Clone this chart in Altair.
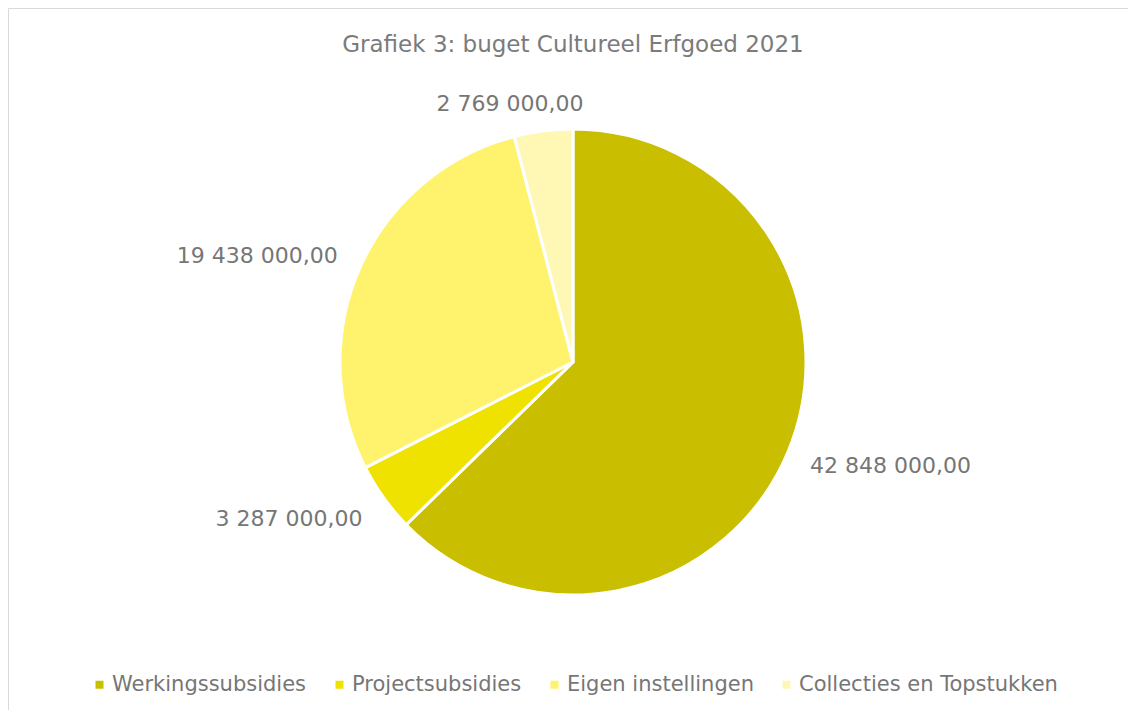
import altair as alt
import pandas as pd

categories = ["Werkingssubsidies", "Projectsubsidies", "Eigen instellingen", "Collecties en Topstukken"]
values = [42848000, 3287000, 19438000, 2769000]
colors = ["#C9BF00", "#EFE200", "#FFF36E", "#FFF8B4"]
title_text = "Grafiek 3: buget Cultureel Erfgoed 2021"

def fmt(v):
    return f"{v:,.2f}".replace(",", " ").replace(".", ",")

df = pd.DataFrame({
    "category": categories,
    "value": values,
    "idx": list(range(len(categories))),
    "label": [fmt(v) for v in values],
})
total = sum(values)

FONT = "DejaVu Sans"
GREY = "#767676"
W, H = 1120, 702
CX, CY = 565, 354

base = alt.Chart(df).transform_window(
    cum="sum(value)", sort=[{"field": "idx"}]
).transform_calculate(mid="datum.cum - datum.value / 2")

theta_scale = alt.Scale(domain=[0, total])
color_scale = alt.Scale(domain=categories, range=colors)

border = alt.Chart(pd.DataFrame({"a": [0]})).mark_rect(
    fill="white", stroke="#D9D9D9", strokeWidth=1
).encode(x=alt.value(0.5), y=alt.value(0.5), x2=alt.value(W + 20), y2=alt.value(H + 20))

title = alt.Chart(pd.DataFrame({"t": [title_text]})).mark_text(
    font=FONT, fontSize=23, color="#7B7B7B", align="center", baseline="middle"
).encode(x=alt.value(CX), y=alt.value(37), text="t:N")

arcs = base.mark_arc(radius=233, stroke="white", strokeWidth=3).encode(
    theta=alt.Theta("value:Q", stack=True, scale=theta_scale),
    order=alt.Order("idx:Q"),
    color=alt.Color("category:N", scale=color_scale, sort=categories,
                    legend=alt.Legend(title=None)),
    x=alt.value(CX), y=alt.value(CY),
)

label_styles = {
    "Werkingssubsidies": dict(radius=267, align="left", dx=-9),
    "Projectsubsidies": dict(radius=270, align="right", dx=9),
    "Eigen instellingen": dict(radius=259, align="right", dx=1),
    "Collecties en Topstukken": dict(radius=260, align="center", dx=-30),
}

label_layers = []
for cat in categories:
    st = label_styles[cat]
    label_layers.append(
        base.transform_filter(alt.datum.category == cat).mark_text(
            font=FONT, fontSize=22, color=GREY, baseline="middle", **st
        ).encode(
            theta=alt.Theta("mid:Q", stack=None, scale=theta_scale),
            text="label:N",
            x=alt.value(CX), y=alt.value(CY),
        )
    )

chart = alt.layer(border, title, arcs, *label_layers).properties(
    width=W, height=H, padding=0, autosize=alt.AutoSizeParams(type="none")
).configure_view(stroke=None).configure_legend(
    orient="none", legendX=81, legendY=666, direction="horizontal",
    symbolType="square", symbolSize=64, symbolStrokeWidth=0,
    labelFont=FONT, labelFontSize=21, labelColor=GREY, labelOffset=2,
    columnPadding=22, labelLimit=400,
)

chart.save("out.html", embed_options={"renderer": "svg", "actions": False})
